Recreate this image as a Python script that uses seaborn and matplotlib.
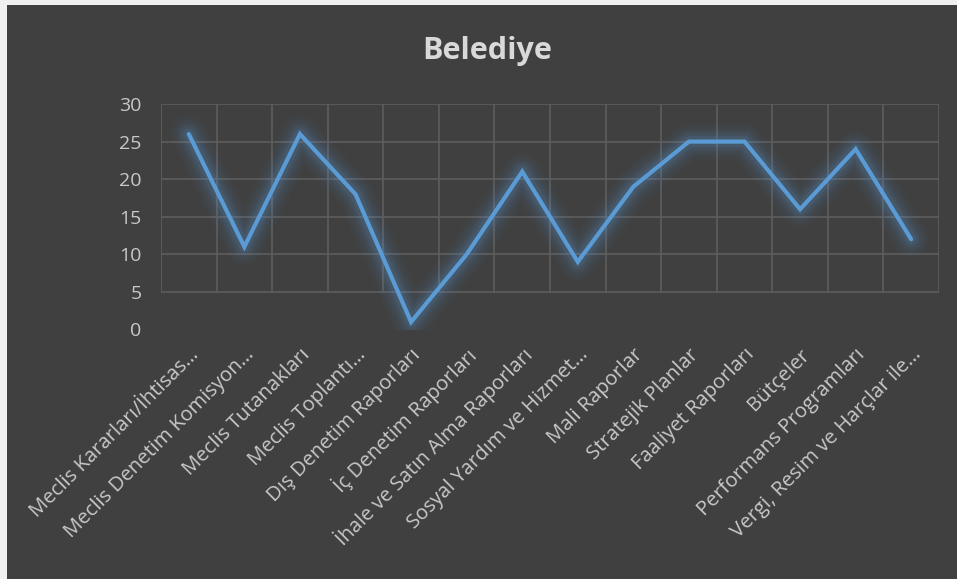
import pandas as pd
import matplotlib.pyplot as plt
import matplotlib.transforms as mtransforms
import seaborn as sns
from matplotlib.patches import Rectangle

# Chart data
categories = [
    'Meclis Kararları/İhtisas…',
    'Meclis Denetim Komisyon…',
    'Meclis Tutanakları',
    'Meclis Toplantı…',
    'Dış Denetim Raporları',
    'İç Denetim Raporları',
    'İhale ve Satın Alma Raporları',
    'Sosyal Yardım ve Hizmet…',
    'Mali Raporlar',
    'Stratejik Planlar',
    'Faaliyet Raporları',
    'Bütçeler',
    'Performans Programları',
    'Vergi, Resim ve Harçlar ile…',
]
values = [26, 11, 26, 18, 1, 10, 21, 9, 19, 25, 25, 16, 24, 12]
y_ticks = [0, 5, 10, 15, 20, 25, 30]

df = pd.DataFrame({'pos': range(len(categories)), 'value': values})

bg = '#404040'
line_color = '#5b9bd5'
text_color = '#c8c8c8'
grid_color = '#5e5e5e'

sns.set_style('dark')
plt.rcParams['font.family'] = ['Open Sans', 'DejaVu Sans']

fig = plt.figure(figsize=(9.57, 5.79), dpi=100, facecolor=bg)
ax = fig.add_axes([161 / 957, 1 - 329.5 / 579, (939 - 161) / 957, (329.5 - 104) / 579])
ax.set_facecolor(bg)

# white strips at the top and left edge of the screenshot
fig.patches.append(Rectangle((0, 1 - 5 / 579), 1, 5 / 579, transform=fig.transFigure,
                             facecolor='#f0f0f0', edgecolor='none', zorder=10))
fig.patches.append(Rectangle((0, 0), 7 / 957, 1, transform=fig.transFigure,
                             facecolor='#f0f0f0', edgecolor='none', zorder=10))

# grid (visible from 5 up to 30, between categories)
for t in y_ticks[1:]:
    ax.axhline(t, color=grid_color, lw=1.2, zorder=0)
for b in range(len(categories) + 1):
    ax.axvline(b - 0.5, ymin=y_ticks[1] / y_ticks[-1], ymax=1, color=grid_color, lw=1.2, zorder=0)

# soft glow under the line
for lw, a in [(26, 0.035), (21, 0.045), (16, 0.06), (12, 0.08), (8, 0.12)]:
    sns.lineplot(data=df, x='pos', y='value', ax=ax, color=line_color, lw=lw, alpha=a,
                 solid_joinstyle='round', solid_capstyle='round', zorder=2)
sns.lineplot(data=df, x='pos', y='value', ax=ax, color=line_color, lw=3.0,
             solid_joinstyle='miter', solid_capstyle='round', zorder=3)

ax.set_xlim(-0.5, len(categories) - 0.5)
ax.set_ylim(0, 30)
ax.set_yticks(y_ticks)
ax.set_yticklabels([str(t) for t in y_ticks], color=text_color, fontsize=14)
ax.set_xticks(range(len(categories)))
ax.set_xticklabels(categories, rotation=45, ha='right', va='center', rotation_mode='anchor',
                   color=text_color, fontsize=14.6)
ax.tick_params(axis='y', length=0, pad=14)
ax.tick_params(axis='x', length=0, pad=16)
shift = mtransforms.ScaledTranslation(7 / 100, 0, fig.dpi_scale_trans)
for lab in ax.get_xticklabels():
    lab.set_transform(lab.get_transform() + shift)
ax.set_xlabel('')
ax.set_ylabel('')
ax.grid(False)
for s in ax.spines.values():
    s.set_visible(False)

fig.text(487 / 957, 1 - 59 / 579, 'Belediye', ha='center', va='baseline',
         color='#d9d9d9', fontsize=22, fontweight='bold')

fig.savefig('out.png', dpi=100, facecolor=bg)
